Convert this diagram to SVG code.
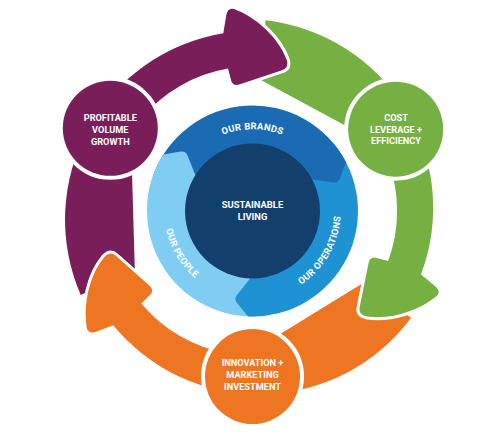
<svg xmlns="http://www.w3.org/2000/svg" width="502" height="432" viewBox="0 0 502 432">
<style>
.arrow{stroke:#fff;stroke-width:6;paint-order:stroke;stroke-linejoin:round}
.node{stroke:#fff;stroke-width:8;paint-order:stroke}
.lbl{font-family:Roboto,"Liberation Sans",sans-serif;font-weight:700;font-size:9.2px;fill:#fff;text-anchor:middle}
.clbl{font-family:Roboto,"Liberation Sans",sans-serif;font-weight:700;font-size:9.4px;fill:#fff;text-anchor:middle}
.rlbl{font-family:Roboto,"Liberation Sans",sans-serif;font-weight:700;font-size:9.4px;fill:#fff;letter-spacing:0.3px;text-anchor:middle}
</style>
<defs>
<path id="arrow" d="M 80.8 295 A 188.7 188.7 0 0 1 223.3 33.3 L 226.3 15 Q 227.8 7.2 234 9 C 256 17 279 38 286.8 60 Q 289 68 282 70.2 L 240 84.3 Q 233.5 86.8 231.3 81 L 228 68.5 A 144.6 144.6 0 0 0 141.7 118.1 L 132 172 L 134.8 269.8 Z"/>
<path id="seg" d="M 153.4 174.9 A 105.5 105.5 0 0 1 346 162.1 L 339.9 178.5 Q 338.1 183.2 333.2 182.5 L 309 178.9 A 65 65 0 0 0 191.42 188.77 Z"/>
<path id="tip" d="M 305.25 119.6 A 105.5 105.5 0 0 1 346 162.1 L 339.9 178.5 Q 338.1 183.2 333.2 182.5 L 309 178.9 A 65 65 0 0 0 285 154.71 Z"/>
<clipPath id="headclip"><circle cx="115" cy="290" r="56"/></clipPath>
<path id="tpBrands" d="M 170.8 211 A 81.7 81.7 0 0 1 334.2 211"/>
<path id="tpOps" d="M 208.35 287.47 A 88.3 88.3 0 0 0 296.65 134.53"/>
<path id="tpPeople" d="M 207.41 135.08 A 88.3 88.3 0 0 0 297.59 286.92"/>
</defs>
<rect width="502" height="432" fill="#fff"/>
<g id="connectors">
<use href="#arrow" class="arrow" fill="#EE7522" transform="rotate(240 252.5 211)"/>
<use href="#arrow" class="arrow" fill="#76B043" transform="rotate(120 252.5 211)"/>
<use href="#arrow" class="arrow" fill="#7A1E5A"/>
<g clip-path="url(#headclip)">
<use href="#arrow" class="arrow" fill="#EE7522" transform="rotate(240 252.5 211)"/>
</g>
</g>
<g id="node-profitable">
<circle class="node" cx="110.3" cy="128.3" r="47.5" fill="#7A1E5A"/>
<text class="lbl" x="110.3" y="121">PROFITABLE</text>
<text class="lbl" x="110.3" y="132.6">VOLUME</text>
<text class="lbl" x="110.3" y="144.6">GROWTH</text>
</g>
<g id="node-cost">
<circle class="node" cx="395.7" cy="129.2" r="47.5" fill="#76B043"/>
<text class="lbl" x="396" y="121">COST</text>
<text class="lbl" x="396" y="132.6">LEVERAGE +</text>
<text class="lbl" x="396" y="144.3">EFFICIENCY</text>
</g>
<g id="node-innovation">
<circle class="node" cx="252.5" cy="376.5" r="47.5" fill="#EE7522"/>
<text class="lbl" x="252.5" y="365.6">INNOVATION +</text>
<text class="lbl" x="252.5" y="377.6">MARKETING</text>
<text class="lbl" x="252.5" y="390">INVESTMENT</text>
</g>
<g id="ring">
<use href="#seg" fill="#7FCDF3" transform="rotate(240 252.5 211)"/>
<use href="#seg" fill="#1E92D3" transform="rotate(120 252.5 211)"/>
<use href="#seg" fill="#1A6BB4"/>
<use href="#tip" fill="#7FCDF3" transform="rotate(240 252.5 211)"/>
<text class="rlbl"><textPath href="#tpBrands" startOffset="50%">OUR BRANDS</textPath></text>
<text class="rlbl"><textPath href="#tpOps" startOffset="50%">OUR OPERATIONS</textPath></text>
<text class="rlbl"><textPath href="#tpPeople" startOffset="50%">OUR PEOPLE</textPath></text>
</g>
<g id="node-center">
<circle cx="252.5" cy="211" r="67.5" fill="#123F6B"/>
<text class="clbl" x="252.5" y="208.4">SUSTAINABLE</text>
<text class="clbl" x="252.5" y="219.6">LIVING</text>
</g>
</svg>
